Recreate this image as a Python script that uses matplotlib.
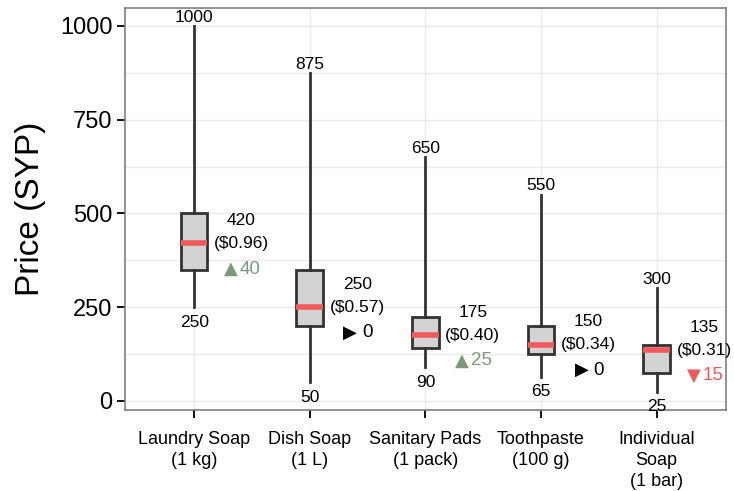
import matplotlib
matplotlib.use("Agg")
import matplotlib.pyplot as plt

# data
items = ["Laundry Soap\n(1 kg)", "Dish Soap\n(1 L)", "Sanitary Pads\n(1 pack)",
         "Toothpaste\n(100 g)", "Individual\nSoap\n(1 bar)"]
mins = [250, 50, 90, 65, 25]
q1 = [350, 200, 140, 125, 75]
medians = [420, 250, 175, 150, 135]
q3 = [500, 350, 225, 200, 150]
maxs = [1000, 875, 650, 550, 300]
usd = ["$0.96", "$0.57", "$0.40", "$0.34", "$0.31"]
change = [40, 0, 25, 0, -15]

plt.rcParams['font.family'] = ['Liberation Sans', 'DejaVu Sans']

fig = plt.figure(figsize=(7.34, 4.91), dpi=100)
ax = fig.add_axes([0.170, 0.165, 0.819, 0.819])

stats = []
for i in range(len(items)):
    stats.append({"whislo": mins[i], "q1": q1[i], "med": medians[i],
                  "q3": q3[i], "whishi": maxs[i]})
pos = list(range(1, len(items) + 1))

ax.bxp(stats, positions=pos, widths=0.23, showfliers=False, showcaps=False,
       patch_artist=True,
       boxprops=dict(facecolor="#d3d3d3", edgecolor="#333333", linewidth=2),
       whiskerprops=dict(color="#333333", linewidth=2),
       medianprops=dict(color="#f05a5a", linewidth=4, solid_capstyle="butt"),
       zorder=3)

green = "#7c9a7a"
red = "#f05a5a"
fs = 12.5
px = 0.72  # points per pixel at 100 dpi
for i, x in enumerate(pos):
    ax.annotate(str(maxs[i]), (x, maxs[i]), xytext=(0, 3), textcoords="offset points",
                ha="center", va="baseline", fontsize=fs)
    ax.annotate(str(mins[i]), (x, mins[i]), xytext=(0, -5.5), textcoords="offset points",
                ha="center", va="top", fontsize=fs)
    lx = x + 0.41
    ax.annotate(str(medians[i]), (lx, medians[i]), xytext=(0, 16.5), textcoords="offset points",
                ha="center", va="center", fontsize=fs)
    ax.annotate("(" + usd[i] + ")", (lx, medians[i]), xytext=(0, 0), textcoords="offset points",
                ha="center", va="center", fontsize=fs)
    if change[i] > 0:
        sym, num, c, gap = "\u25b2", str(change[i]), green, 2
    elif change[i] < 0:
        sym, num, c, gap = "\u25bc", str(-change[i]), red, 2
    else:
        sym, num, c, gap = "\u25b6", "0", "black", 5
    tri_w = 15
    num_w = 10 * len(num)
    split = (tri_w - gap - num_w) / 2.0 * px
    ax.annotate(sym, (lx, medians[i]), xytext=(split, -21.7), textcoords="offset points",
                ha="right", va="baseline", fontsize=13, color=c, family="DejaVu Sans")
    ax.annotate(num, (lx, medians[i]), xytext=(split + gap * px, -21.7), textcoords="offset points",
                ha="left", va="baseline", fontsize=13.5, color=c)

ax.set_xlim(0.4, 5.6)
ax.set_ylim(-24, 1048)
ax.set_xticks(pos)
ax.set_xticklabels(items, fontsize=13, linespacing=1.33)
ax.set_yticks([0, 250, 500, 750, 1000])
ax.set_yticks([125, 375, 625, 875], minor=True)
ax.tick_params(axis="y", labelsize=17, length=6, width=1.3, color="black", pad=3)
ax.tick_params(axis="x", length=6, width=1.3, color="black", pad=9)
ax.tick_params(axis="y", which="minor", length=0)
ax.set_ylabel("Price (SYP)", fontsize=24, labelpad=10)

ax.grid(True, which="both", color="#ebebeb", linewidth=1, zorder=0)
ax.set_axisbelow(True)
for sp in ax.spines.values():
    sp.set_color("#7f7f7f")
    sp.set_linewidth(1.2)

fig.savefig("out.png", dpi=100)
